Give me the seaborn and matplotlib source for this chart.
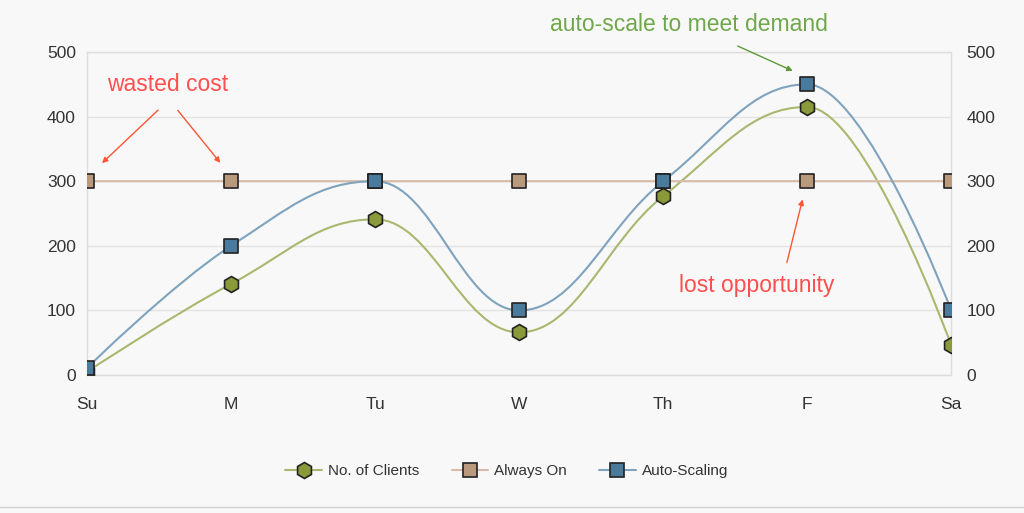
import numpy as np
import pandas as pd
import matplotlib
matplotlib.use("Agg")
import matplotlib.pyplot as plt
from matplotlib.path import Path
from matplotlib.patches import PathPatch
from matplotlib.lines import Line2D
import seaborn as sns

days = ["Su", "M", "Tu", "W", "Th", "F", "Sa"]
clients = [5, 141, 241, 66, 277, 415, 46]
always_on = [300, 300, 300, 300, 300, 300, 300]
auto_scaling = [11, 200, 300, 100, 300, 450, 100]
y_ticks = [0, 100, 200, 300, 400, 500]

series = [
    ("No. of Clients", clients, "#a8b86e", "#8a9a3a", "h", 11.5),
    ("Always On", always_on, "#d8bba7", "#b99a7c", "s", 10.5),
    ("Auto-Scaling", auto_scaling, "#7fa3bd", "#4a7b9c", "s", 10.5),
]

sns.set_theme(style="white")
plt.rcParams["font.family"] = ["Liberation Sans", "DejaVu Sans"]
BG = "#f8f8f8"

fig = plt.figure(figsize=(10.24, 5.13), dpi=100, facecolor=BG)
ax = fig.add_axes([0.085, 0.269, 0.844, 0.6296])
ax.set_facecolor(BG)


def spline_path(xs, ys, smoothing=1.5):
    n = len(xs)
    lc = [(xs[i], ys[i]) for i in range(n)]
    rc = [(xs[i], ys[i]) for i in range(n)]
    for i in range(1, n - 1):
        px, py = xs[i], ys[i]
        lx0, ly0 = xs[i - 1], ys[i - 1]
        nx, ny = xs[i + 1], ys[i + 1]
        d = smoothing + 1
        lcx = (smoothing * px + lx0) / d
        lcy = (smoothing * py + ly0) / d
        rcx = (smoothing * px + nx) / d
        rcy = (smoothing * py + ny) / d
        corr = ((rcy - lcy) * (rcx - px)) / (rcx - lcx) + py - rcy
        lcy += corr
        rcy += corr
        if lcy > ly0 and lcy > py:
            lcy = max(ly0, py); rcy = 2 * py - lcy
        elif lcy < ly0 and lcy < py:
            lcy = min(ly0, py); rcy = 2 * py - lcy
        if rcy > ny and rcy > py:
            rcy = max(ny, py); lcy = 2 * py - rcy
        elif rcy < ny and rcy < py:
            rcy = min(ny, py); lcy = 2 * py - rcy
        lc[i] = (lcx, lcy)
        rc[i] = (rcx, rcy)
    verts = [(xs[0], ys[0])]
    codes = [Path.MOVETO]
    for i in range(1, n):
        verts += [rc[i - 1], lc[i], (xs[i], ys[i])]
        codes += [Path.CURVE4] * 3
    return Path(verts, codes)


xpos = np.arange(len(days))
handles = []
for name, vals, lcol, mcol, mk, ms in series:
    p = spline_path(list(xpos.astype(float)), list(map(float, vals)))
    ax.add_patch(PathPatch(p, facecolor="none", edgecolor=lcol, lw=1.5, zorder=2))
    df = pd.DataFrame({"x": xpos, "y": vals})
    sns.scatterplot(data=df, x="x", y="y", ax=ax, marker=mk, s=ms ** 2,
                    color=mcol, edgecolor="#222222", linewidth=1.2, zorder=4,
                    legend=False)
    handles.append(Line2D([0], [0], color=lcol, lw=1.5, marker=mk,
                          markersize=ms, markerfacecolor=mcol,
                          markeredgecolor="#222222", markeredgewidth=1.2,
                          label=name))

ax.set_xlim(0, len(days) - 1)
ax.set_ylim(0, 500)
ax.set_xticks(xpos)
ax.set_xticklabels(days)
ax.set_yticks(y_ticks)
ax.set_xlabel("")
ax.set_ylabel("")
ax.grid(axis="y", color="#e3e3e3", lw=1)
ax.set_axisbelow(True)
for s in ax.spines.values():
    s.set_color("#dddddd")
    s.set_linewidth(1)
ax.tick_params(axis="both", length=0, labelsize=12.5, colors="#333333")
ax.tick_params(axis="x", pad=16)
ax.tick_params(axis="y", pad=8)

ax2 = ax.twinx()
ax2.set_ylim(0, 500)
ax2.set_yticks(y_ticks)
ax2.tick_params(axis="y", length=0, labelsize=12.5, colors="#333333", pad=11)
for s in ax2.spines.values():
    s.set_visible(False)
ax2.grid(False)

red = "#ff4f4f"
green = "#6fa84a"
ax.text(0.5625, 449, "wasted cost", color=red, fontsize=16.5, ha="center", va="center")
for tx, ty, hx, hy in [(0.507, 413, 0.09, 325), (0.618, 413, 0.9375, 325)]:
    ax.annotate("", xy=(hx, hy), xytext=(tx, ty),
                arrowprops=dict(arrowstyle="-|>", color="#ff5533", lw=1, mutation_scale=8))
ax.text(4.18, 543, "auto-scale to meet demand", color=green, fontsize=16.5,
        ha="center", va="center", clip_on=False)
ax.annotate("", xy=(4.917, 469), xytext=(4.5, 511), annotation_clip=False,
            arrowprops=dict(arrowstyle="-|>", color="#5d9a3a", lw=1, mutation_scale=8))
ax.text(4.65, 139, "lost opportunity", color=red, fontsize=16.5, ha="center", va="center")
ax.annotate("", xy=(4.972, 276), xytext=(4.854, 170),
            arrowprops=dict(arrowstyle="-|>", color="#ff5533", lw=1, mutation_scale=8))

fig.legend(handles=handles, loc="center", bbox_to_anchor=(0.495, 0.082), ncol=3,
           frameon=False, fontsize=11, handlelength=2.4, columnspacing=2.1,
           handletextpad=0.4, labelcolor="#333333")

fig.add_artist(Line2D([0, 1], [0.012, 0.012], transform=fig.transFigure,
                      color="#d0d0d0", lw=1))

fig.savefig("out.png", dpi=100, facecolor=BG)
